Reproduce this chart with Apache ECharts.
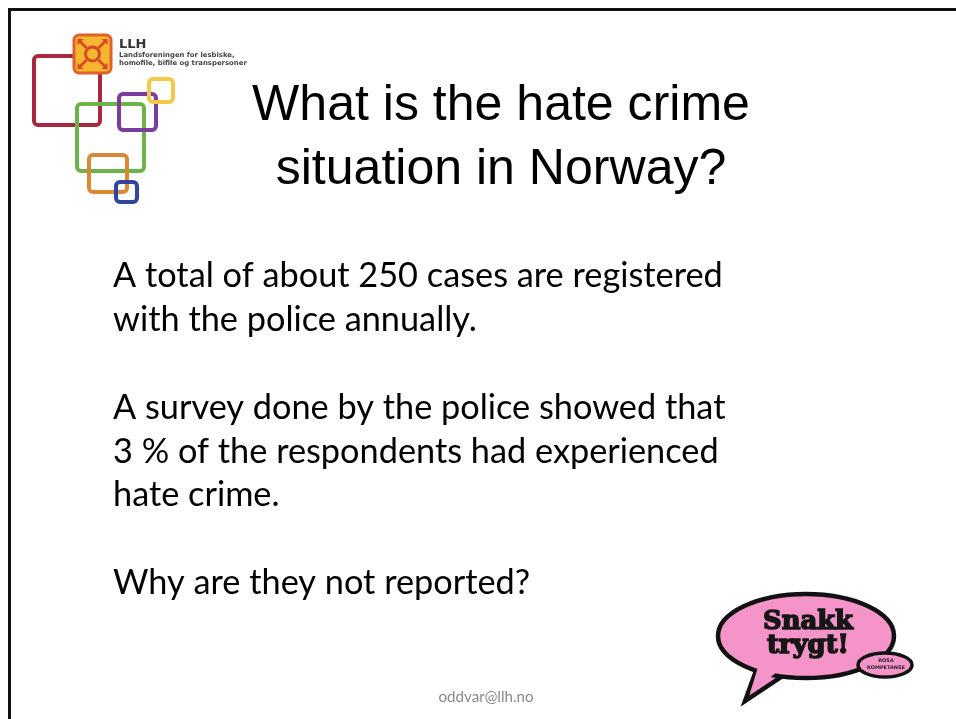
<!DOCTYPE html>
<html><head><meta charset="utf-8">
<script src="https://cdn.jsdelivr.net/npm/echarts@6/dist/echarts.min.js"></script>
<style>html,body{margin:0;padding:0;background:#fff}#c{width:956px;height:719px}</style>
</head><body><div id="c"></div>
<script>
const titleLines = ["What is the hate crime", "situation in Norway?"];
const bodyLines = [
  "A total of about 250 cases are registered",
  "with the police annually.",
  "",
  "A survey done by the police showed that",
  "3 % of the respondents had experienced",
  "hate crime.",
  "",
  "Why are they not reported?"
];
const footerText = "oddvar@llh.no";
const logoName = "LLH";
const logoSubtitle = ["Landsforeningen for lesbiske,", "homofile, bifile og transpersoner"];
const bubbleLines = ["Snakk", "trygt!"];
const bubbleTag = ["ROSA", "KOMPETANSE"];

const mctx = document.createElement('canvas').getContext('2d');
function fitSize(text, fontSpec, target) {
  mctx.font = fontSpec.replace('SIZE', '100px');
  return 100 * target / mctx.measureText(text).width;
}

const TITLE_FONT = '"Liberation Sans", Arial, sans-serif';
const BODY_FONT = 'Lato, "Open Sans", sans-serif';
const BUBBLE_FONT = '"DejaVu Serif", serif';
const SMALL_FONT = '"DejaVu Sans", sans-serif';

const titleSize = fitSize(titleLines[0], 'SIZE ' + TITLE_FONT, 498);
const bodySize = fitSize(bodyLines[0], 'SIZE ' + BODY_FONT, 610);
const footSize = fitSize(footerText, 'SIZE ' + BODY_FONT, 95);
const snakkSize = fitSize(bubbleLines[0], 'bold SIZE ' + BUBBLE_FONT, 90);
const subSize = fitSize(logoSubtitle[1], 'bold SIZE ' + SMALL_FONT, 128);
const tagSize = fitSize(bubbleTag[1], 'bold SIZE ' + SMALL_FONT, 38);

const g = [];
// slide border
g.push({type:'rect', shape:{x:9.5, y:9.5, width:1000, height:800}, style:{fill:'none', stroke:'#111', lineWidth:3}, z:1});

// logo squares
function sq(x1,y1,x2,y2,color,z){
  g.push({type:'rect', shape:{x:x1,y:y1,width:x2-x1,height:y2-y1,r:4}, style:{fill:'none', stroke:color, lineWidth:4}, z:z});
}
sq(34,56,100,125,'#a8283f',2);
sq(77,104,144,171,'#6db24b',3);
sq(119,94,156,130,'#7b3d9c',4);
sq(149,79,173,102,'#f5c84a',4);
sq(89,155,127,192,'#d98936',4);
sq(116,182,137,202,'#2f469c',5);
// icon
g.push({type:'rect', shape:{x:74,y:35,width:37,height:38,r:5}, style:{fill:'#f6b62e', stroke:'#e2602a', lineWidth:3}, z:6});
g.push({type:'circle', shape:{cx:92.5,cy:54,r:7}, style:{fill:'none', stroke:'#d9472a', lineWidth:3}, z:7});
[[1,1],[1,-1],[-1,1],[-1,-1]].forEach(([dx,dy])=>{
  g.push({type:'line', shape:{x1:92.5+dx*6,y1:54+dy*6,x2:92.5+dx*13,y2:54+dy*13}, style:{stroke:'#d9472a', lineWidth:2.5}, z:7});
  const tx=92.5+dx*15, ty=54+dy*15;
  g.push({type:'polygon', shape:{points:[[tx,ty],[tx-dx*6,ty],[tx,ty-dy*6]]}, style:{fill:'#d9472a'}, z:7});
});
g.push({type:'text', style:{text:logoName, x:119, y:38, font:'bold 13px ' + SMALL_FONT, fill:'#333', verticalAlign:'top'}, z:7});
logoSubtitle.forEach((t,i)=>{
  g.push({type:'text', style:{text:t, x:119, y:55 + i*8, font:'bold ' + subSize.toFixed(2) + 'px ' + SMALL_FONT, fill:'#444', verticalAlign:'middle'}, z:7});
});

// title
titleLines.forEach((t,i)=>{
  g.push({type:'text', style:{text:t, x:501, y:106 + i*64, font:titleSize.toFixed(2) + 'px ' + TITLE_FONT, fill:'#000', align:'center', verticalAlign:'middle'}, z:8});
});

// body
bodyLines.forEach((t,i)=>{
  if (!t) return;
  g.push({type:'text', style:{text:t, x:113, y:276 + i*43.86, font:bodySize.toFixed(2) + 'px ' + BODY_FONT, fill:'#000', verticalAlign:'middle'}, z:8});
});

// footer
g.push({type:'text', style:{text:footerText, x:486, y:697, font:footSize.toFixed(2) + 'px ' + BODY_FONT, fill:'#8a8a8a', align:'center', verticalAlign:'middle'}, z:8});

// speech bubble
const PINK = '#f494c8';
g.push({type:'polygon', shape:{points:[[757,668],[745,701],[781,677]]}, style:{fill:PINK, stroke:'#111', lineWidth:4.5, lineJoin:'miter'}, z:10});
g.push({type:'ellipse', shape:{cx:806,cy:636,rx:88,ry:42}, style:{fill:PINK, stroke:'#111', lineWidth:4.5}, z:11});
g.push({type:'polygon', shape:{points:[[759,664],[750,693],[777,672]]}, style:{fill:PINK}, z:12});
g.push({type:'ellipse', shape:{cx:885,cy:665,rx:27,ry:12}, style:{fill:PINK, stroke:'#111', lineWidth:3.5}, z:13});
bubbleLines.forEach((t,i)=>{
  g.push({type:'text', style:{text:t, x:808, y:622 + i*24, font:'bold ' + snakkSize.toFixed(2) + 'px ' + BUBBLE_FONT, fill:'#161616', stroke:'#161616', lineWidth:1.6, align:'center', verticalAlign:'middle'}, z:14});
});
bubbleTag.forEach((t,i)=>{
  g.push({type:'text', style:{text:t, x:886, y:661 + i*7, font:'bold ' + tagSize.toFixed(2) + 'px ' + SMALL_FONT, fill:'#222', align:'center', verticalAlign:'middle'}, z:14});
});

const chart = echarts.init(document.getElementById('c'), null, {renderer:'canvas'});
chart.setOption({backgroundColor:'#ffffff', animation:false, graphic:{elements:g}});
</script></body></html>
